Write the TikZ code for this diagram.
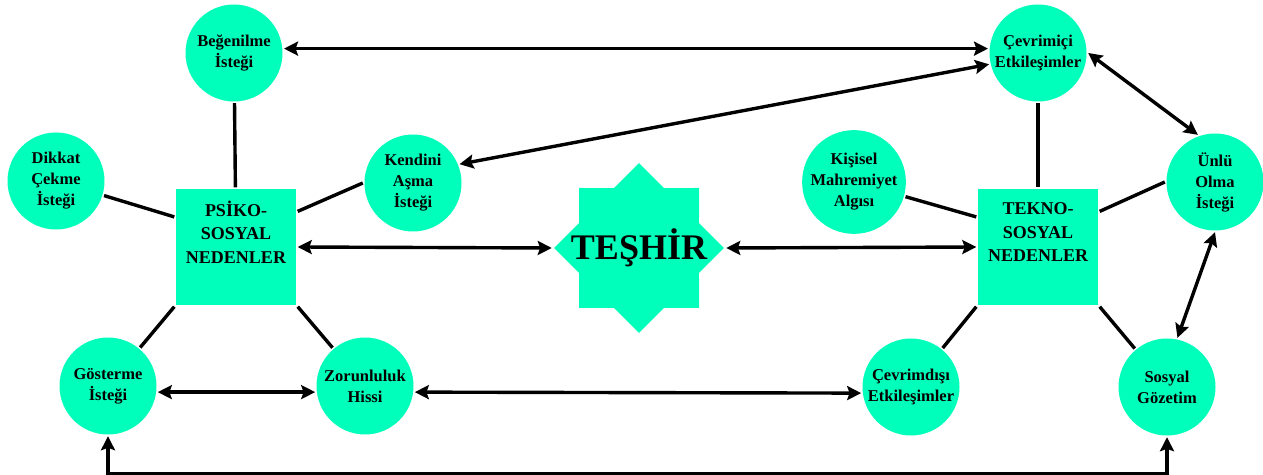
\documentclass[tikz,border=0pt]{standalone}
\usepackage{fontspec}
\setmainfont{Liberation Serif}
\usetikzlibrary{shapes}
\usetikzlibrary{arrows.meta}
\definecolor{nane}{RGB}{0,255,187}
\tikzset{
	dugum/.style = {align=center, inner sep=0pt, text centered,
		fill=nane, draw=none},
	dg_c/.style = {dugum, circle, minimum size=48.5pt,
		font=\fontsize{8.25}{10.5}\selectfont\bfseries},% daire, istek
	dg_k/.style = {dugum, rectangle, minimum width=60pt, minimum height=58pt,
		font=\fontsize{9}{11.75}\selectfont\bfseries},% kare, nedenler
	dg_y/.style = {dugum, star, star points=8, star point ratio=1.307,
		minimum size=84.85pt}% yildiz, teshir
}
\begin{document}
\begin{tikzpicture}[x=0.5pt, y=-0.5pt, line width=1.7pt,
		>={Stealth[length=7pt, width=7pt, inset=1.2pt]}]
	\useasboundingbox (0,0) rectangle (1263,475);
	\node [dg_k] (psiko) at (236,247) {PSİKO-\\SOSYAL\\NEDENLER\\[3pt]};
	\node [dg_k] (tekno) at (1038,247) {TEKNO-\\SOSYAL\\NEDENLER\\[3pt]};
	\node [dg_y, label={[font=\fontsize{18}{18}\selectfont\bfseries]center:TEŞHİR}] (teshir) at (639,248) {};
	\node [dg_c] (begenilme) at (234,53) {Beğenilme\\İsteği};
	\node [dg_c] (dikkat) at (56,181) {Dikkat\\Çekme\\İsteği};
	\node [dg_c] (kendini) at (413,183) {Kendini\\Aşma\\İsteği};
	\node [dg_c] (gosterme) at (108,386) {Gösterme\\İsteği};
	\node [dg_c] (zorunluluk) at (365,386) {Zorunluluk\\Hissi};
	\node [dg_c] (cevrimici) at (1038,53) {Çevrimiçi\\Etkileşimler};
	\node [dg_c] (kisisel) at (854,182) {Kişisel\\Mahremiyet\\Algısı};
	\node [dg_c] (unlu) at (1215,182) {Ünlü\\Olma\\İsteği};
	\node [dg_c] (cevrimdisi) at (911,387) {Çevrimdışı\\Etkileşimler};
	\node [dg_c] (sosyal) at (1167,387) {Sosyal\\Gözetim};
	% psiko-sosyal
	\draw (begenilme) -- (psiko);
	\draw (dikkat) -- (psiko.154);
	\draw (kendini.west) -- (psiko.30);
	\draw (psiko.south west) -- (gosterme);
	\draw (psiko.south east) -- (zorunluluk);
	% tekno-sosyal
	\draw (cevrimici) -- (tekno);
	\draw (kisisel) -- (tekno.154);
	\draw (unlu.west) -- (tekno.30);
	\draw (tekno.south west) -- (cevrimdisi);
	\draw (tekno.south east) -- (sosyal);
	% cift yonlu oklar
	\draw [<->] (begenilme.5) -- (cevrimici.175);
	\draw [<->] (kendini.22) -- (cevrimici.193);
	\draw [<->] (cevrimici.east) -- (unlu.110);
	\draw [<->] (unlu.south) -- (sosyal.78);
	\draw [<->] (psiko.east) -- (teshir.west);
	\draw [<->] (teshir.east) -- (tekno.west);
	\draw [<->] (gosterme.-7) -- (zorunluluk.187);
	\draw [<->] (zorunluluk.-7) -- (cevrimdisi.187);
	\draw [<->] (gosterme.south) -- ++(0,37) -| (sosyal.south);
\end{tikzpicture}
\end{document}
